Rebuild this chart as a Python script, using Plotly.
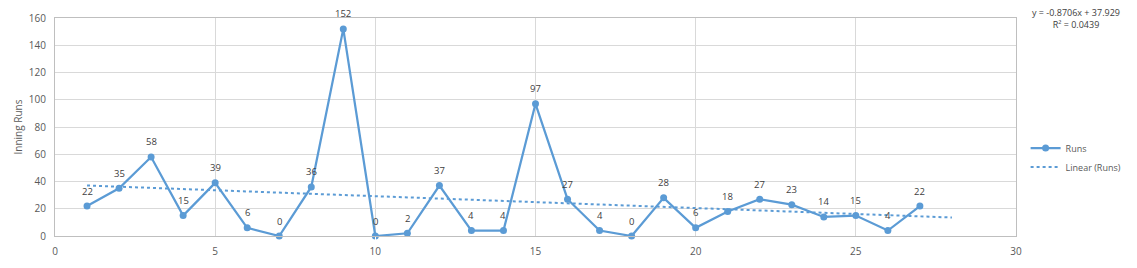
import plotly.graph_objects as go

innings = list(range(1, 28))
runs = [22, 35, 58, 15, 39, 6, 0, 36, 152, 0, 2, 37, 4, 4, 97, 27, 4, 0, 28, 6, 18, 27, 23, 14, 15, 4, 22]
slope = -0.8706
intercept = 37.929
r2 = 0.0439
trend_x = [1, 28]
trend_y = [slope * x + intercept for x in trend_x]

blue = "#5B9BD5"
grey = "#595959"
font = "Open Sans"

fig = go.Figure()
fig.add_trace(go.Scatter(
    x=innings, y=runs, mode="lines+markers", name="Runs",
    line=dict(color=blue, width=2.25), marker=dict(color=blue, size=7),
    cliponaxis=False,
))
fig.add_trace(go.Scatter(
    x=trend_x, y=trend_y, mode="lines", name="Linear (Runs)",
    line=dict(color=blue, width=2, dash="dot"),
))

annotations = [dict(x=xv, y=yv, xref="x", yref="y", text=str(yv), showarrow=False,
                    yshift=15, font=dict(size=9.5, color="#404040", family=font))
               for xv, yv in zip(innings, runs)]
annotations.append(dict(
    xref="paper", yref="paper", x=1.062, y=1.0, xanchor="center", yanchor="middle",
    text=f"y = {slope}x + {intercept}<br>R² = {r2}", showarrow=False,
    font=dict(size=9, color="#404040", family=font), align="center",
))

fig.update_layout(
    width=1137, height=268,
    margin=dict(l=55, r=120, t=10, b=28),
    paper_bgcolor="white", plot_bgcolor="white",
    font=dict(family=font, size=10, color=grey),
    showlegend=True,
    legend=dict(x=1.01, y=0.36, xanchor="left", yanchor="middle",
                font=dict(size=9, color=grey, family=font),
                bgcolor="rgba(0,0,0,0)", tracegroupgap=8, itemwidth=30),
    xaxis=dict(range=[0, 30], dtick=5, tick0=0, showgrid=True,
               gridcolor="#D9D9D9", gridwidth=1, zeroline=False,
               showline=True, linecolor="#BFBFBF", mirror=True,
               ticks="outside", ticklen=6, tickcolor="white",
               tickfont=dict(size=10, color=grey)),
    yaxis=dict(range=[0, 160], dtick=20, showgrid=True,
               gridcolor="#D9D9D9", gridwidth=1, zeroline=False,
               showline=True, linecolor="#BFBFBF", mirror=True,
               ticks="outside", ticklen=6, tickcolor="white",
               tickfont=dict(size=10, color=grey),
               title=dict(text="Inning Runs", font=dict(size=10, color=grey), standoff=4)),
    annotations=annotations,
)

fig.write_html("out.html")
